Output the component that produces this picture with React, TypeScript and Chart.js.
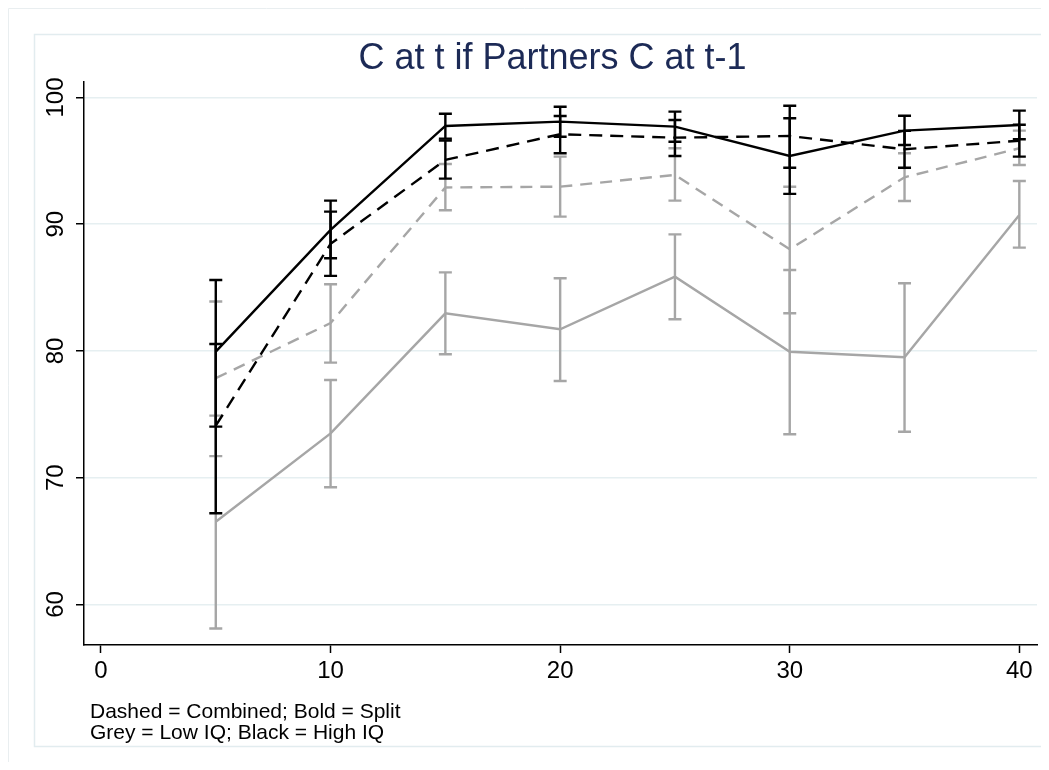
import React, { useEffect, useRef } from "react";
import { Chart, registerables } from "chart.js";

Chart.register(...registerables);

// ---- data ----
const xValues = [5, 10, 15, 20, 25, 30, 35, 40];
const xTicks = [0, 10, 20, 30, 40];
const yTicks = [60, 70, 80, 90, 100];

// High IQ, Split (black solid)
const highSplitMean = [79.95, 89.55, 97.75, 98.09, 97.7, 95.38, 97.38, 97.83];
const highSplitLo = [74.03, 87.31, 96.75, 96.9, 96.51, 92.39, 96.25, 96.7];
const highSplitHi = [85.6, 91.86, 98.72, 99.27, 98.88, 98.36, 98.56, 98.96];

// High IQ, Combined (black dashed)
const highCombMean = [74.1, 88.45, 95.07, 97.1, 96.83, 96.96, 95.91, 96.59];
const highCombLo = [67.2, 85.92, 93.6, 95.6, 95.38, 94.46, 94.46, 95.33];
const highCombHi = [80.55, 90.99, 96.6, 98.54, 98.22, 99.35, 97.36, 97.85];

// Low IQ, Combined (grey dashed)
const lowCombMean = [77.85, 82.2, 92.9, 92.96, 93.89, 88.02, 93.7, 95.99];
const lowCombLo = [71.7, 79.08, 91.1, 90.6, 91.86, 82.97, 91.83, 94.67];
const lowCombHi = [83.9, 85.26, 94.75, 95.33, 95.99, 92.96, 95.6, 97.38];

// Low IQ, Split (grey solid)
const lowSplitMean = [66.53, 73.5, 82.97, 81.71, 85.86, 79.94, 79.5, 90.73];
const lowSplitLo = [58.1, 69.25, 79.74, 77.63, 82.5, 73.43, 73.63, 88.15];
const lowSplitHi = [74.9, 77.71, 86.2, 85.74, 89.2, 86.39, 85.34, 93.41];

const titleText = "C at t if Partners C at t-1";
const noteLines = ["Dashed = Combined; Bold = Split", "Grey = Low IQ; Black = High IQ"];

const BLACK = "#000000";
const GREY = "#a6a6a6";
const GRID = "#e6eff1";
const FONT = "'Liberation Sans', Arial, Helvetica, sans-serif";

const seriesDefs = [
  { mean: highSplitMean, lo: highSplitLo, hi: highSplitHi, color: BLACK, dash: [] as number[] },
  { mean: highCombMean, lo: highCombLo, hi: highCombHi, color: BLACK, dash: [13, 8] },
  { mean: lowCombMean, lo: lowCombLo, hi: lowCombHi, color: GREY, dash: [12, 8] },
  { mean: lowSplitMean, lo: lowSplitLo, hi: lowSplitHi, color: GREY, dash: [] as number[] },
];

const CANVAS_W = 1033;
const CANVAS_H = 754;

export default function App() {
  const ref = useRef<HTMLCanvasElement | null>(null);

  useEffect(() => {
    if (!ref.current) return;

    const framePlugin = {
      id: "frames",
      beforeDraw(chart: any) {
        const ctx = chart.ctx;
        ctx.save();
        ctx.fillStyle = "#ffffff";
        ctx.fillRect(0, 0, chart.width, chart.height);
        ctx.lineWidth = 1;
        ctx.strokeStyle = "#e9eef0";
        ctx.beginPath();
        ctx.moveTo(0.5, chart.height);
        ctx.lineTo(0.5, 0.5);
        ctx.lineTo(chart.width, 0.5);
        ctx.stroke();
        ctx.strokeStyle = "#e2ecef";
        ctx.lineWidth = 1.5;
        ctx.beginPath();
        ctx.moveTo(chart.width, 26.5);
        ctx.lineTo(26.5, 26.5);
        ctx.lineTo(26.5, 738.5);
        ctx.lineTo(chart.width, 738.5);
        ctx.stroke();
        ctx.restore();
      },
      afterDraw(chart: any) {
        const ctx = chart.ctx;
        ctx.save();
        ctx.fillStyle = "#1c2a56";
        ctx.font = `36px ${FONT}`;
        ctx.textAlign = "center";
        ctx.textBaseline = "alphabetic";
        ctx.fillText(titleText, 544.5, 60.5);
        ctx.fillStyle = "#000000";
        ctx.font = `21px ${FONT}`;
        ctx.textAlign = "left";
        ctx.fillText(noteLines[0], 82, 710.3);
        ctx.fillText(noteLines[1], 82, 731.3);
        ctx.restore();
      },
    };

    const errorBarPlugin = {
      id: "errbars",
      afterDatasetDraw(chart: any, args: any) {
        const def = seriesDefs[args.index];
        if (!def) return;
        const ctx = chart.ctx;
        const xs = chart.scales.x;
        const ys = chart.scales.y;
        ctx.save();
        ctx.strokeStyle = def.color;
        ctx.lineWidth = 2.4;
        ctx.setLineDash([]);
        ctx.lineCap = "butt";
        for (let j = 0; j < xValues.length; j++) {
          const px = xs.getPixelForValue(xValues[j]);
          const pl = ys.getPixelForValue(def.lo[j]);
          const ph = ys.getPixelForValue(def.hi[j]);
          ctx.beginPath();
          ctx.moveTo(px, pl);
          ctx.lineTo(px, ph);
          ctx.moveTo(px - 6.5, pl);
          ctx.lineTo(px + 6.5, pl);
          ctx.moveTo(px - 6.5, ph);
          ctx.lineTo(px + 6.5, ph);
          ctx.stroke();
        }
        ctx.restore();
      },
    };

    const chart = new Chart(ref.current, {
      type: "line",
      data: {
        datasets: seriesDefs.map((d, i) => ({
          label: `s${i}`,
          data: xValues.map((x, j) => ({ x, y: d.mean[j] })),
          borderColor: d.color,
          borderWidth: 2.4,
          borderDash: d.dash,
          pointRadius: 0,
          pointHoverRadius: 0,
          tension: 0,
          fill: false,
        })),
      },
      options: {
        animation: false,
        responsive: false,
        events: [],
        layout: { padding: { left: 0, top: 74, right: 4, bottom: 77 } },
        plugins: {
          legend: { display: false },
          title: { display: false },
          tooltip: { enabled: false },
        },
        scales: {
          x: {
            type: "linear",
            min: -0.74,
            max: 40.77,
            afterBuildTicks: (scale: any) => {
              scale.ticks = xTicks.map((v) => ({ value: v }));
            },
            afterFit: (scale: any) => {
              scale.height = 40;
            },
            ticks: {
              color: "#000",
              font: { family: FONT, size: 24 },
              padding: 4,
              maxRotation: 0,
              minRotation: 0,
            },
            grid: {
              drawOnChartArea: false,
              drawTicks: true,
              tickLength: 8,
              tickColor: "#000",
              tickWidth: 1.5,
            },
            border: { display: true, color: "#000", width: 1.5 },
          },
          y: {
            type: "linear",
            min: 56.8,
            max: 101.22,
            afterBuildTicks: (scale: any) => {
              scale.ticks = yTicks.map((v) => ({ value: v }));
            },
            afterFit: (scale: any) => {
              scale.width = 76;
            },
            ticks: {
              color: "#000",
              font: { family: FONT, size: 24 },
              padding: 0,
              minRotation: 90,
              maxRotation: 90,
              crossAlign: "center",
            },
            grid: {
              color: GRID,
              lineWidth: 1.5,
              drawTicks: true,
              tickLength: 8,
              tickColor: "#000",
              tickWidth: 1.5,
            },
            border: { display: true, color: "#000", width: 1.5 },
          },
        },
      },
      plugins: [framePlugin, errorBarPlugin],
    } as any);

    return () => {
      chart.destroy();
    };
  }, []);

  return (
    <div style={{ width: CANVAS_W, height: CANVAS_H }}>
      <canvas
        ref={ref}
        width={CANVAS_W}
        height={CANVAS_H}
        style={{ width: CANVAS_W, height: CANVAS_H, display: "block" }}
      />
    </div>
  );
}
